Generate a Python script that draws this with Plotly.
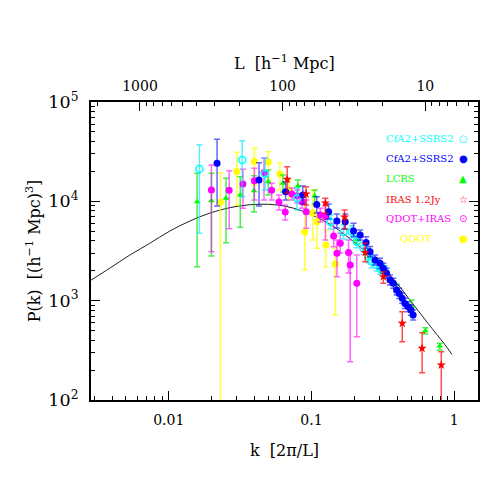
import numpy as np
import plotly.graph_objects as go

# model curve
curve_k = [0.00285, 0.00387, 0.00533, 0.00735, 0.01014, 0.01396, 0.01923, 0.02655,
           0.03656, 0.05035, 0.0659, 0.0855, 0.1067, 0.1385, 0.1726, 0.2241,
           0.2944, 0.3848, 0.5, 0.6568, 0.8586, 0.9654]
curve_p = [1611, 2128, 2877, 3776, 5012, 6310, 7586, 8610,
           9226, 9333, 8913, 8035, 6998, 5754, 4571, 3388,
           2371, 1585, 977, 589, 363, 288]

# CfA2+SSRS2 (open)
cfa_open_k = [0.0164, 0.0327, 0.0473, 0.0793, 0.1363, 0.1680, 0.1919, 0.2079,
              0.2314, 0.2508, 0.2644, 0.2865, 0.3026, 0.3279]
cfa_open_p = [21150, 26060, 19000, 10720, 6190, 4907, 4942, 3920,
              3362, 2768, 2465, 2283, 2115, 1955]
cfa_open_lo = [4761, 11130, 13000, 8172, 5261, 4173, 4300, 3410,
               2930, 2410, 2150, 1990, 1840, 1700]
cfa_open_hi = [37150, 40760, 27300, 13610, 7278, 5772, 5680, 4500,
               3860, 3180, 2830, 2620, 2430, 2250]

# CfA2+SSRS2 (filled)
cfa_k = [0.0218, 0.0429, 0.0659, 0.0870, 0.1089, 0.1320, 0.1508, 0.1725,
         0.1972, 0.2195, 0.2417, 0.2577, 0.2792, 0.3026, 0.3190, 0.3364,
         0.3553, 0.3746, 0.3950, 0.4125, 0.4328, 0.4519, 0.4764, 0.4975, 0.5162]
cfa_p = [24130, 16390, 12500, 11570, 9285, 7858, 6333, 6232,
         5022, 4577, 3847, 3107, 2564, 2375, 2115, 1884,
         1613, 1494, 1279, 1184, 1055, 939, 869, 804, 716]
cfa_lo = [8968, 8968, 10300, 9393, 7624, 6634, 5384, 5261,
          4401, 4077, 3362, 2760, 2280, 2110, 1880, 1680,
          1440, 1330, 1140, 1050, 940, 835, 775, 715, 638]
cfa_hi = [42110, 24470, 15650, 14260, 11130, 9393, 7450, 7450,
          6006, 5140, 4401, 3500, 2880, 2670, 2380, 2120,
          1810, 1680, 1440, 1330, 1190, 1055, 975, 905, 805]

# LCRS
lcrs_k = [0.0158, 0.0199, 0.0252, 0.0317, 0.0396, 0.0498, 0.0631, 0.0803,
          0.1054, 0.2079, 0.2508, 0.3105, 0.3950, 0.5044, 0.6290, 0.7925]
lcrs_p = [9908, 10140, 10720, 11570, 12790, 15750, 15180, 14260,
          11310, 4077, 2994, 2115, 1331, 869, 498, 349]
lcrs_lo = [2195, 2813, 3829, 5473, 7802, 11570, 12410, 11570,
           9393, 3700, 2720, 1920, 1210, 768, 461, 318]
lcrs_hi = [19140, 19140, 17040, 17690, 18110, 20660, 18400, 16390,
           13000, 4490, 3300, 2330, 1470, 1014, 533, 372]

# IRAS 1.2Jy
iras_k = [0.0676, 0.0917, 0.1252, 0.1706, 0.2378, 0.3190, 0.4328, 0.5965, 0.8130]
iras_p = [16660, 11850, 9613, 6950, 3050, 1741, 591, 331, 225]
iras_lo = [12040, 9177, 7572, 5261, 2465, 1494, 386, 188, 1]
iras_hi = [22310, 14030, 10720, 8172, 3776, 1955, 773, 475, 306]

# QDOT+IRAS
qi_k = [0.0199, 0.0265, 0.0331, 0.0398, 0.0465, 0.0526, 0.0592, 0.0655,
        0.0729, 0.0793, 0.0860, 0.0919, 0.1155, 0.1252, 0.1430, 0.1508,
        0.1593, 0.1820, 0.1870, 0.2079]
qi_p = [13000, 12910, 14940, 16130, 19410, 12910, 9840, 7802,
        11850, 11310, 9908, 7858, 7278, 6998, 4473, 2994,
        3776, 3050, 2283, 1494]
qi_lo = [3107, 5298, 8500, 10300, 10300, 10300, 8172, 6482,
         10300, 9613, 8500, 5347, 6190, 4077, 3489, 1741,
         3015, 1897, 243, 433]
qi_hi = [23200, 20330, 21000, 21490, 27300, 15180, 11570, 9177,
         13610, 13000, 11570, 10300, 8500, 9177, 6006, 4077,
         4761, 4077, 3015, 2879]

# QDOT
qdot_k = [0.0230, 0.0300, 0.0398, 0.0498, 0.0601, 0.0695, 0.0898, 0.1021,
          0.1094, 0.1262, 0.1470]
qdot_p = [9770, 19960, 25160, 24870, 18830, 13000, 4907, 7624,
          6232, 3630, 2337]
qdot_lo = [1, 9177, 14590, 16390, 13000, 10300, 2033, 4077,
           3362, 2195, 716]
qdot_hi = [19410, 31150, 34180, 31590, 24130, 16390, 9547, 13000,
           7572, 5140, 3385]

SERIF = "DejaVu Serif"


def data_trace(k, p, lo, hi, color, bar_color, symbol, size, line_w=0):
    p_arr = np.array(p, dtype=float)
    return go.Scatter(
        x=k, y=p, mode="markers",
        marker=dict(symbol=symbol, size=size, color=color,
                    line=dict(color=color, width=line_w)),
        error_y=dict(type="data", symmetric=False,
                     array=np.array(hi) - p_arr,
                     arrayminus=p_arr - np.array(lo),
                     color=bar_color, thickness=1.5, width=3),
        showlegend=False, hoverinfo="skip",
    )


fig = go.Figure()

fig.add_trace(go.Scatter(x=curve_k, y=curve_p, mode="lines", line_shape="spline",
                         line=dict(color="#222", width=1), showlegend=False,
                         hoverinfo="skip"))

fig.add_trace(data_trace(qdot_k, qdot_p, qdot_lo, qdot_hi,
                         "#ffff00", "rgba(255,255,0,0.75)", "circle", 7))
fig.add_trace(data_trace(lcrs_k, lcrs_p, lcrs_lo, lcrs_hi,
                         "#00ff00", "rgba(0,230,0,0.7)", "triangle-up", 6))
fig.add_trace(data_trace(qi_k, qi_p, qi_lo, qi_hi,
                         "#ff00ff", "rgba(255,0,255,0.6)", "circle", 7))
fig.add_trace(data_trace(cfa_open_k, cfa_open_p, cfa_open_lo, cfa_open_hi,
                         "#00ffff", "rgba(0,230,255,0.65)", "circle-open", 7, 1.5))
fig.add_trace(data_trace(cfa_k, cfa_p, cfa_lo, cfa_hi,
                         "#0000ff", "rgba(0,0,255,0.6)", "circle", 7))
fig.add_trace(data_trace(iras_k, iras_p, iras_lo, iras_hi,
                         "#ff0000", "rgba(255,0,0,0.7)", "star", 7))

# invisible copy on the top (L = 2pi/k) axis so that it gets drawn
fig.add_trace(go.Scatter(x=2 * np.pi / np.array(curve_k), y=curve_p, xaxis="x2",
                         mode="lines", line=dict(color="rgba(0,0,0,0)"),
                         showlegend=False, hoverinfo="skip"))

tick_font = dict(family=SERIF, size=14, color="black")
common = dict(type="log", showline=True, linecolor="black", linewidth=1.5,
              ticks="inside", ticklen=9, tickwidth=1, tickcolor="black",
              minor=dict(ticks="inside", ticklen=4.5, tickcolor="black", dtick="D1"),
              showgrid=False, zeroline=False, tickfont=tick_font, dtick=1,
              exponentformat="none")

k_lo, k_hi = 0.00285, 1.47
fig.update_layout(
    width=491, height=491,
    margin=dict(l=91, r=11, t=102, b=91),
    paper_bgcolor="white", plot_bgcolor="white",
    xaxis=dict(range=[np.log10(k_lo), np.log10(k_hi)], mirror=False,
               ticklabelstandoff=6, **common),
    xaxis2=dict(range=[np.log10(2 * np.pi / k_lo), np.log10(2 * np.pi / k_hi)],
                overlaying="x", side="top", anchor="y", ticklabelstandoff=4,
                **common),
    yaxis=dict(range=[2, 5], mirror="ticks", ticklabelstandoff=8,
               **{**common, "exponentformat": "power"}),
)

# axis titles
title_font = dict(family=SERIF, size=16, color="black")
fig.add_annotation(text="k  [2π/L]", xref="paper", yref="paper", x=0.5, y=-0.168,
                   xanchor="center", yanchor="middle", showarrow=False,
                   font=title_font)
fig.add_annotation(text="L  [h<sup>−1</sup> Mpc]", xref="paper", yref="paper",
                   x=0.5, y=1.131, xanchor="center", yanchor="middle",
                   showarrow=False, font=title_font)
fig.add_annotation(text="P(k)  [(h<sup>−1</sup> Mpc)<sup>3</sup>]", xref="paper",
                   yref="paper", x=-0.149, y=0.5, textangle=-90,
                   xanchor="center", yanchor="middle", showarrow=False,
                   font=title_font)

# legend, drawn by hand (text then symbol on the right)
legend_rows = [
    ("CfA2+SSRS2", "○", "#00ffff", 0.756, 0.878),
    ("CfA2+SSRS2", "●", "#0000ff", 0.756, 0.809),
    ("LCRS", "▲", "#00ff00", 0.756, 0.744),
    ("IRAS 1.2Jy", "☆", "#ff0000", 0.756, 0.674),
    ("QDOT+IRAS", "⊙", "#ff00ff", 0.756, 0.610),
    ("QDOT", "●", "#ffff00", 0.792, 0.543),
]
for label, glyph, color, lx, ly in legend_rows:
    fig.add_annotation(text=label, xref="paper", yref="paper", x=lx, y=ly,
                       xanchor="left", yanchor="middle", showarrow=False,
                       font=dict(family=SERIF, size=10, color=color))
    fig.add_annotation(text=glyph, xref="paper", yref="paper", x=0.962, y=ly,
                       xanchor="center", yanchor="middle", showarrow=False,
                       font=dict(family="DejaVu Sans", size=10, color=color))

# drop the browser's default 8px body margin so the figure sits at (0, 0)
fig.write_html("out.html", config={"displayModeBar": False},
               post_script="document.body.style.margin='0';")
